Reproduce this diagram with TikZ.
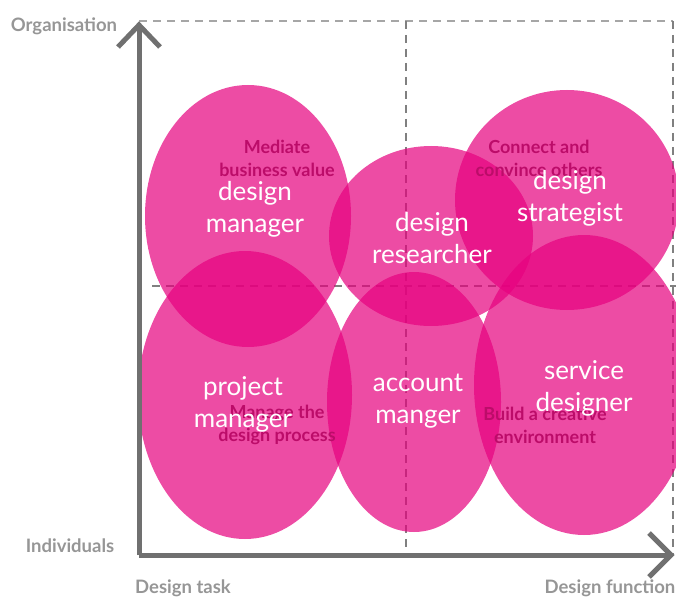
\documentclass[tikz,border=0pt]{standalone}
\usepackage{fontspec}
\setmainfont{Lato}
\definecolor{mag}{RGB}{230,0,126}
\definecolor{axisgray}{RGB}{112,112,112}
\definecolor{labgray}{RGB}{150,150,150}
\definecolor{catcol}{RGB}{188,12,105}
\begin{document}
\begin{tikzpicture}[x=1pt,y=-1pt,
  blob/.style={fill=mag,fill opacity=0.7,draw=none},
  role/.style={text=white,font=\fontsize{26}{32}\selectfont,align=center},
  cat/.style={text=catcol,font=\bfseries\fontsize{18}{23}\selectfont,align=center},
  axlab/.style={text=labgray,font=\bfseries\fontsize{18.5}{20}\selectfont},
  axisline/.style={draw=axisgray,line width=5pt},
  grid/.style={draw=gray,line width=1.2pt,dash pattern=on 8pt off 6pt}]
\useasboundingbox (0,0) rectangle (676,596);
% dashed grid
\draw[grid,draw=gray!70] (139,21) -- (673,21);
\draw[grid] (406,21) -- (406,555);
\draw[grid] (673,21) -- (673,555);
\draw[grid] (152,286) -- (676,286);
% ellipses
\fill[blob] (248,216) ellipse [x radius=103, y radius=131];
\fill[blob] (431,236) ellipse [x radius=102, y radius=90];
\fill[blob] (567,200) ellipse [x radius=112, y radius=110];
\fill[blob] (245,395) ellipse [x radius=107, y radius=144];
\fill[blob] (414,402) ellipse [x radius=87, y radius=130];
\fill[blob] (584,385) ellipse [x radius=110, y radius=150];
% category labels
\node[cat] (c1) at (277,158) {Mediate\\business value};
\node[cat] (c2) at (539,158) {Connect and\\convince others};
\node[cat] (c3) at (277,425) {Manage the\\design process};
\node[cat] (c4) at (545,425) {Build a creative\\environment};
% role labels
\node[role] (r1) at (255,209) {design\\manager};
\node[role] (r2) at (432,238) {design\\researcher};
\node[role] (r3) at (570,198) {design\\strategist};
\node[role] (r4) at (243,404) {project\\manager};
\node[role] (r5) at (418,401) {account\\manger};
\node[role] (r6) at (584,388) {service\\designer};
% axes
\coordinate (o) at (139,555);
\coordinate (ytop) at (139,25);
\coordinate (xend) at (671,555);
\draw[axisline] (o) -- (ytop);
\draw[axisline] (o) -- (xend);
\draw[axisline,line join=miter] (118,47) -- (ytop) -- (160,47);
\draw[axisline,line join=miter] (649,533) -- (xend) -- (649,577);
% axis labels
\node[axlab] (l1) at (64,26) {Organisation};
\node[axlab] (l2) at (70,546) {Individuals};
\node[axlab] (l3) at (183,588) {Design task};
\node[axlab] (l4) at (610,588) {Design function};
\end{tikzpicture}
\end{document}
